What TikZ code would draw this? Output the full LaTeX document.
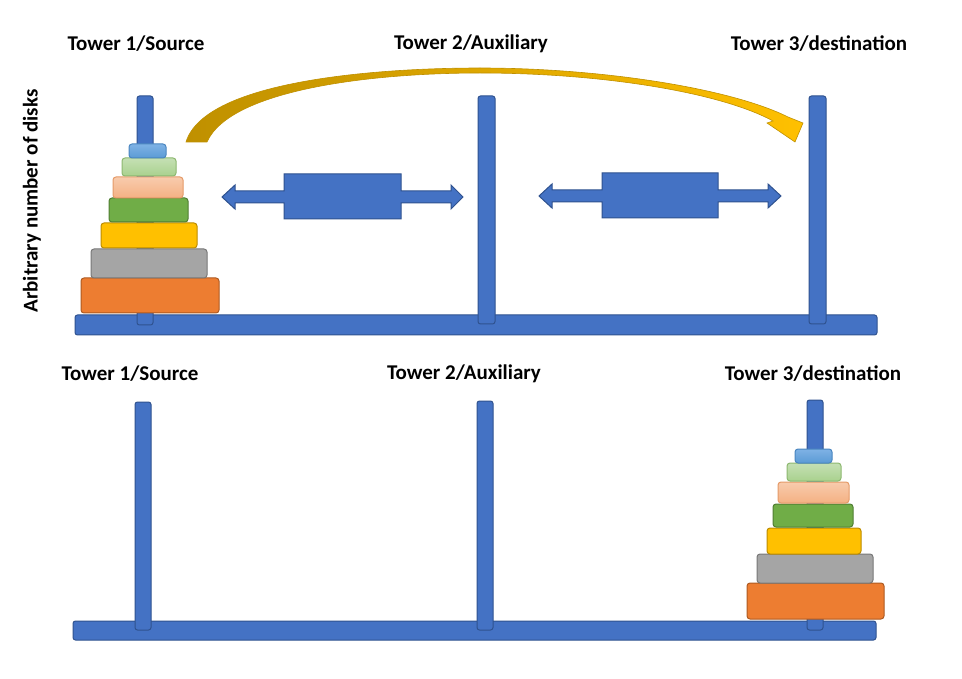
\documentclass[tikz,border=0pt]{standalone}
\usepackage{fontspec}
\setmainfont{Carlito}
\definecolor{poleblue}{HTML}{4472C4}
\definecolor{poleedge}{HTML}{2F528F}
\definecolor{dblue}{HTML}{5B9BD5}
\definecolor{dbluetop}{HTML}{7FB2E5}
\definecolor{dblueedge}{HTML}{4A86C0}
\definecolor{lgreen}{HTML}{A9D18E}
\definecolor{lgreentop}{HTML}{C5E0B4}
\definecolor{lgreenedge}{HTML}{8DB870}
\definecolor{salmon}{HTML}{F4B183}
\definecolor{salmontop}{HTML}{F8CBAD}
\definecolor{salmonedge}{HTML}{E59A68}
\definecolor{dgreen}{HTML}{70AD47}
\definecolor{dgreenedge}{HTML}{507E32}
\definecolor{dyellow}{HTML}{FFC000}
\definecolor{dyellowedge}{HTML}{BC8C00}
\definecolor{dgray}{HTML}{A5A5A5}
\definecolor{dgrayedge}{HTML}{787878}
\definecolor{dorange}{HTML}{ED7D31}
\definecolor{dorangeedge}{HTML}{AE5A21}
\definecolor{golddark}{HTML}{BF9000}
\definecolor{goldlight}{HTML}{FFC000}
\tikzset{
  polebox/.style={fill=poleblue, draw=poleedge, line width=1pt, rounded corners=2.5pt},
  disk/.style={line width=1pt, rounded corners=3pt},
  label/.style={font=\bfseries\fontsize{21}{25}\selectfont, inner sep=0pt},
  dblarrow/.style={fill=poleblue, draw=poleedge, line width=1pt, line join=miter},
}
\begin{document}
\begin{tikzpicture}[x=1pt,y=-1pt]
\useasboundingbox[fill=white] (0,0) rectangle (962,679);

% ---------- top section ----------
\draw[polebox] (75,315) rectangle (877,335);
\draw[polebox] (137,96) rectangle (153,325);
\draw[polebox] (478,96) rectangle (495,324);
\draw[polebox] (809,96) rectangle (826,324);

\draw[disk, draw=dorangeedge, fill=dorange] (81,278) rectangle (219,313);
\draw[disk, draw=dgrayedge, fill=dgray] (91,249) rectangle (207,278);
\draw[disk, draw=dyellowedge, fill=dyellow] (101,223) rectangle (197,248);
\draw[disk, draw=dgreenedge, fill=dgreen] (109,198) rectangle (188,222);
\draw[disk, draw=salmonedge, top color=salmontop, bottom color=salmon] (113,177) rectangle (183,198);
\draw[disk, draw=lgreenedge, top color=lgreentop, bottom color=lgreen] (122,158) rectangle (176,176);
\draw[disk, draw=dblueedge, top color=dbluetop, bottom color=dblue] (129,144) rectangle (166,158);

\node[label] (t1) at (136,44) {Tower 1/Source};
\node[label] (t2) at (471,44) {Tower 2/Auxiliary};
\node[label] (t3) at (819,44) {Tower 3/destination};
\node[label, rotate=90] (arb) at (32,201) {Arbitrary number of disks};

% double arrows
\draw[dblarrow] (222,197) -- (235,185) -- (235,191) -- (284,191) -- (284,174) -- (401,174)
  -- (401,191) -- (451,191) -- (451,185) -- (463,197) -- (451,209) -- (451,203)
  -- (401,203) -- (401,219) -- (284,219) -- (284,203) -- (235,203) -- (235,209) -- cycle;
\draw[dblarrow] (539,196) -- (552,184) -- (552,190) -- (602,190) -- (602,173) -- (718,173)
  -- (718,190) -- (768,190) -- (768,184) -- (781,196) -- (768,208) -- (768,202)
  -- (718,202) -- (718,218) -- (602,218) -- (602,202) -- (552,202) -- (552,208) -- cycle;

% curved gold arrow
\path[left color=golddark, right color=goldlight, draw=golddark, line width=0.6pt, line join=miter]
  (186,142) .. controls (205,80) and (380,68) .. (480,68)
  .. controls (600,68) and (730,88) .. (788,117)
  -- (803,123) -- (795,142) -- (767,123) -- (773,121)
  .. controls (720,92) and (600,73) .. (480,73)
  .. controls (370,73) and (230,90) .. (207,142) -- cycle;

% ---------- bottom section ----------
\draw[polebox] (73,621) rectangle (876,640);
\draw[polebox] (135,402) rectangle (151,630);
\draw[polebox] (477,401) rectangle (493,630);
\draw[polebox] (807,400) rectangle (823,630);

\draw[disk, draw=dorangeedge, fill=dorange] (747,583) rectangle (884,619);
\draw[disk, draw=dgrayedge, fill=dgray] (757,554) rectangle (873,583);
\draw[disk, draw=dyellowedge, fill=dyellow] (767,528) rectangle (861,554);
\draw[disk, draw=dgreenedge, fill=dgreen] (773,504) rectangle (853,527);
\draw[disk, draw=salmonedge, top color=salmontop, bottom color=salmon] (778,482) rectangle (849,503);
\draw[disk, draw=lgreenedge, top color=lgreentop, bottom color=lgreen] (787,463) rectangle (841,481);
\draw[disk, draw=dblueedge, top color=dbluetop, bottom color=dblue] (795,449) rectangle (832,463);

\node[label] (b1) at (130,374) {Tower 1/Source};
\node[label] (b2) at (464,374) {Tower 2/Auxiliary};
\node[label] (b3) at (813,374) {Tower 3/destination};
\end{tikzpicture}
\end{document}
